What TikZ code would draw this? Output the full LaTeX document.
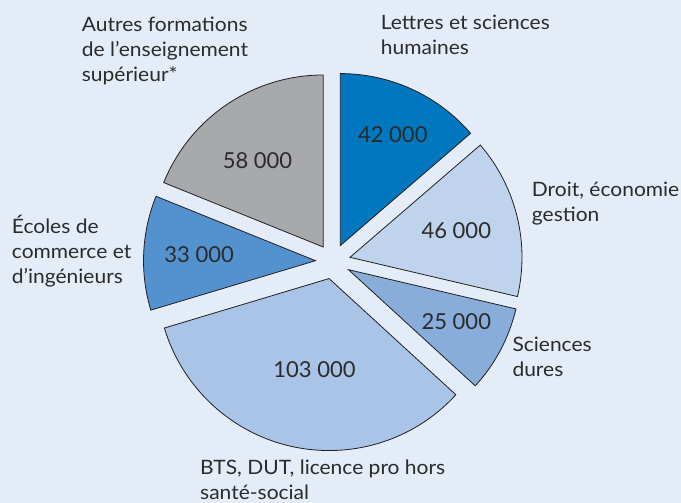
\documentclass[tikz,border=0pt]{standalone}
\usepackage{fontspec}
\setmainfont{Lato}
\newfontfamily\labfont[FakeStretch=1.06]{Lato}
\usetikzlibrary{calc}
\definecolor{bgc}{HTML}{E4ECF7}
\definecolor{txt}{HTML}{2B2B2B}
\definecolor{edge}{HTML}{231F20}
\definecolor{cLettres}{HTML}{0077BF}
\definecolor{cDroit}{HTML}{BFD3EC}
\definecolor{cSciences}{HTML}{88ADDB}
\definecolor{cBTS}{HTML}{A9C4E7}
\definecolor{cEcoles}{HTML}{5392CF}
\definecolor{cAutres}{HTML}{A8A9AD}
\tikzset{
  slicestyle/.style={draw=edge, line width=0.8pt, line join=miter},
  lab/.style={anchor=base west, inner sep=0pt, align=left, text=txt,
    font=\labfont\fontsize{19.8}{25}\selectfont},
  num/.style={anchor=base, inner sep=0pt, text=txt,
    font=\fontsize{22}{26}\selectfont}
}
\newcommand{\pieslice}[3]{%
  \pgfmathsetmacro{\mymid}{(#1+#2)/2}%
  \draw[slicestyle, fill=#3, shift={(\mymid:17.5)}]
    (333,241.5) -- ++(#1:172) arc[start angle=#1, end angle=#2, radius=172] -- cycle;
}
\begin{document}
\begin{tikzpicture}[x=1pt, y=1pt]
\fill[bgc] (0,0) rectangle (681,503);
\useasboundingbox (0,0) rectangle (681,503);
% slices (clockwise from top)
\pieslice{90}{40.749}{cLettres}
\pieslice{40.749}{-13.192}{cDroit}
\pieslice{-13.192}{-42.508}{cSciences}
\pieslice{-42.508}{-163.290}{cBTS}
\pieslice{-163.290}{-201.987}{cEcoles}
\pieslice{158.013}{90}{cAutres}
% values
\node[num] (vLettres) at (392.8,360.3) {42 000};
\node[num] (vAutres) at (257.5,334) {58 000};
\node[num] (vDroit) at (456.3,264.7) {46 000};
\node[num] (vEcoles) at (199.2,240.7) {33 000};
\node[num] (vSciences) at (456.3,173.7) {25 000};
\node[num] (vBTS) at (314.5,125.7) {103 000};
% labels (anchor = baseline of last line)
\node[lab] (lAutres) at (81.7,421.3) {Autres formations\\de l’enseignement\\supérieur*};
\node[lab] (lLettres) at (380.7,448) {Lettres et sciences\\humaines};
\node[lab] (lDroit) at (531.7,281.3) {Droit, économie\\gestion};
\node[lab] (lSciences) at (512.3,126) {Sciences\\dures};
\node[lab] (lEcoles) at (11.7,219.7) {Écoles de\\commerce et\\d’ingénieurs};
\node[lab] (lBTS) at (200,3.5) {BTS, DUT, licence pro hors\\santé-social};
\end{tikzpicture}
\end{document}
